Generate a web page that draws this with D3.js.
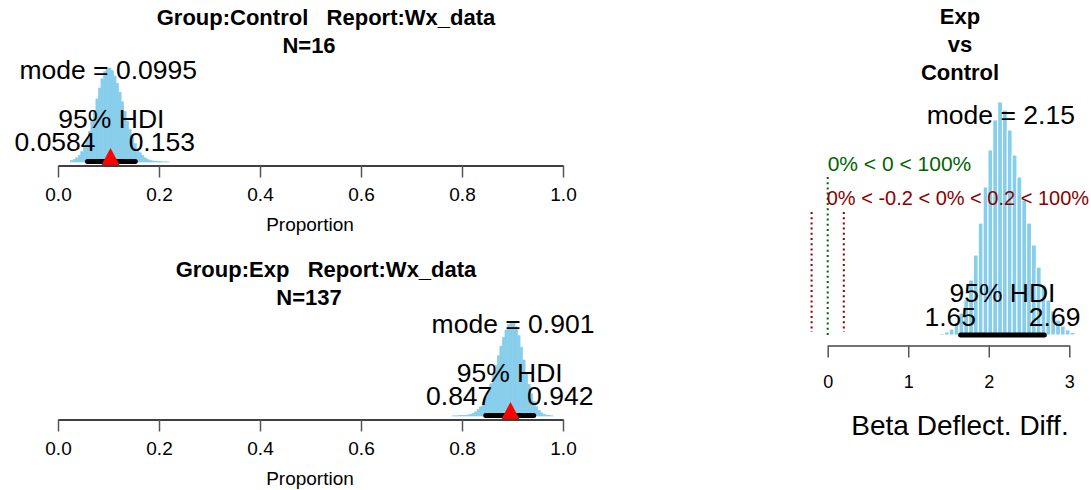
<!DOCTYPE html>
<html><head><meta charset="utf-8">
<script src="https://cdn.jsdelivr.net/npm/d3@7"></script>
<style>
body{margin:0;background:#fff}
svg{display:block}
text{font-family:"Liberation Sans",Arial,sans-serif;fill:#000}
</style>
</head><body>
<svg id="c" width="1091" height="490"></svg>
<script>
// ---------- data ----------
const propTicks = [0, 0.2, 0.4, 0.6, 0.8, 1.0];
const propTickLabels = ["0.0", "0.2", "0.4", "0.6", "0.8", "1.0"];
const diffTicks = [0, 1, 2, 3];
const diffTickLabels = ["0", "1", "2", "3"];

const controlTitle = ["Group:Control   Report:Wx_data", "N=16"];
const controlBinStart = 0.025;
const controlBinWidth = 0.005;
const controlDensity = [0.23,0.39,0.66,1.07,1.65,2.46,3.54,4.88,6.45,8.19,10.01,11.75,13.23,14.34,14.93,
  14.94,14.51,13.67,12.51,11.10,9.57,8.01,6.50,5.13,3.93,2.91,2.10,1.47,1.01,0.66,0.42,0.26,0.17,0.09,0.06,0.05,0.03,0.03,0.02];
const controlMode = 0.0995;
const controlHDI = [0.0584, 0.153];
const controlMarker = 0.104;

const expTitle = ["Group:Exp   Report:Wx_data", "N=137"];
const expBinStart = 0.780;
const expBinWidth = 0.005;
const expDensity = [0.02,0.03,0.03,0.05,0.06,0.09,0.17,0.26,0.42,0.66,1.01,1.47,2.10,2.91,3.93,5.13,6.50,8.01,9.57,11.10,
  12.51,13.67,14.51,14.94,14.91,14.16,12.77,10.94,8.90,6.87,5.04,3.51,2.33,1.46,0.87,0.50,0.27,0.14,0.06,0.03];
const expMode = 0.901;
const expHDI = [0.847, 0.942];
const expMarker = 0.896;

const diffTitle = ["Exp", "vs", "Control"];
const diffBinStart = 1.39;
const diffBinWidth = 0.06;
const diffDensity = [0.010,0.020,0.039,0.079,0.144,0.230,0.361,0.525,0.735,0.972,1.215,1.412,1.530,1.477,
  1.346,1.182,1.037,0.886,0.735,0.591,0.446,0.328,0.230,0.158,0.098,0.059,0.033,0.016];
const diffMode = 2.15;
const diffHDI = [1.65, 2.69];
const compVal = 0;
const ropeVals = [-0.2, 0.2];
const compText = "0% < 0 < 100%";
const ropeText = "0% < -0.2 < 0% < 0.2 < 100%";
const propLabel = "Proportion";
const diffLabel = "Beta Deflect. Diff.";

// ---------- drawing ----------
const svg = d3.select("#c");
svg.append("rect").attr("width", 1091).attr("height", 490).attr("fill", "#fff");
const SKY = "#87CEEB";

function fmt(v){ return String(v); }

function adjText(g, txt, x, y, adj, size, color){
  const t = g.append("text").attr("x", x).attr("y", y).attr("font-size", size)
    .style("fill", color || "#000").text(txt);
  const w = t.node().getComputedTextLength();
  t.attr("x", x - adj * w);
  return t;
}

function propPanel(cfg){
  const g = svg.append("g");
  const x = d3.scaleLinear().domain([0, 1]).range([58, 563]);
  const axisY = cfg.axisY;
  const base = axisY - 3.5;
  const y = d3.scaleLinear().domain([0, d3.max(cfg.density)]).range([base, base - 94]);
  // titles
  const titleX = [326, 309];
  cfg.title.forEach((t, i) => {
    g.append("text").attr("x", titleX[i]).attr("y", cfg.titleY + i * 28).attr("text-anchor", "middle")
      .attr("font-size", 22).attr("font-weight", "bold").style("white-space", "pre").text(t);
  });
  // histogram
  g.selectAll("rect.bar").data(cfg.density).join("rect")
    .attr("x", (d, i) => x(cfg.binStart + i * cfg.binWidth))
    .attr("width", x(cfg.binWidth) - x(0))
    .attr("y", d => y(d)).attr("height", d => base - y(d))
    .attr("fill", SKY).attr("stroke", SKY).attr("stroke-width", 0.6);
  // axis
  const ax = g.append("g").attr("transform", `translate(0,${axisY})`)
    .call(d3.axisBottom(x).tickValues(propTicks).tickFormat((d, i) => propTickLabels[i])
      .tickSize(12).tickSizeOuter(0).tickPadding(10));
  ax.select(".domain").attr("stroke", "#000").attr("stroke-width", 1.3);
  ax.selectAll(".tick line").attr("stroke", "#555").attr("stroke-width", 1.5);
  ax.selectAll(".tick text").attr("font-size", 19).attr("font-family", "Liberation Sans, Arial, sans-serif").style("fill", "#000");
  g.append("text").attr("x", 310).attr("y", axisY + 65).attr("text-anchor", "middle")
    .attr("font-size", 19).text(propLabel);
  // mode text
  g.append("text").attr("x", x(cfg.mode)).attr("y", axisY - 87).attr("text-anchor", "middle")
    .attr("font-size", 26.5).text("mode = " + fmt(cfg.mode));
  g.append("text").attr("x", x((cfg.hdi[0] + cfg.hdi[1]) / 2)).attr("y", axisY - 38).attr("text-anchor", "middle")
    .attr("font-size", 26.5).text("95% HDI");
  adjText(g, fmt(cfg.hdi[0]), x(cfg.hdi[0]), axisY - 15, 0.9, 26.5);
  adjText(g, fmt(cfg.hdi[1]), x(cfg.hdi[1]), axisY - 15, 0.1, 26.5);
  // HDI bar
  g.append("line").attr("x1", x(cfg.hdi[0])).attr("x2", x(cfg.hdi[1]))
    .attr("y1", axisY - 4).attr("y2", axisY - 4)
    .attr("stroke", "#000").attr("stroke-width", 5).attr("stroke-linecap", "round");
  // marker
  const mx = x(cfg.marker), by = axisY - 0.5;
  g.append("path").attr("d", `M${mx - 9},${by}L${mx + 9},${by}L${mx},${by - 17}Z`).attr("fill", "#f00");
}

propPanel({title: controlTitle, titleY: 25, axisY: 165.5, density: controlDensity, binStart: controlBinStart,
  binWidth: controlBinWidth, mode: controlMode, hdi: controlHDI, marker: controlMarker});
propPanel({title: expTitle, titleY: 277, axisY: 419.5, density: expDensity, binStart: expBinStart,
  binWidth: expBinWidth, mode: expMode, hdi: expHDI, marker: expMarker});

// right panel
(function(){
  const g = svg.append("g");
  const x = d3.scaleLinear().domain([0, 3]).range([827.7, 1069.3]);
  const axisY = 345.5;
  const base = 335;
  const y = d3.scaleLinear().domain([0, d3.max(diffDensity)]).range([base, 102]);
  diffTitle.forEach((t, i) => {
    g.append("text").attr("x", 960).attr("y", 24 + i * 28).attr("text-anchor", "middle")
      .attr("font-size", 22).attr("font-weight", "bold").text(t);
  });
  g.selectAll("rect.bar").data(diffDensity).join("rect")
    .attr("x", (d, i) => x(diffBinStart + i * diffBinWidth))
    .attr("width", x(diffBinWidth) - x(0))
    .attr("y", d => y(d)).attr("height", d => base - y(d))
    .attr("fill", SKY).attr("stroke", "#fff").attr("stroke-width", 1);
  const ax = g.append("g").attr("transform", `translate(0,${axisY})`)
    .call(d3.axisBottom(x).tickValues(diffTicks).tickFormat((d, i) => diffTickLabels[i])
      .tickSize(12).tickSizeOuter(0).tickPadding(18));
  ax.select(".domain").attr("stroke", "#444").attr("stroke-width", 1.3);
  ax.selectAll(".tick line").attr("stroke", "#555").attr("stroke-width", 1.5);
  ax.selectAll(".tick text").attr("font-size", 18).attr("font-family", "Liberation Sans, Arial, sans-serif").style("fill", "#000");
  g.append("text").attr("x", 960).attr("y", 435).attr("text-anchor", "middle")
    .attr("font-size", 28).text(diffLabel);
  // comparison lines
  g.append("line").attr("x1", x(compVal)).attr("x2", x(compVal)).attr("y1", 177).attr("y2", 335)
    .attr("stroke", "#006400").attr("stroke-width", 2).attr("stroke-dasharray", "2,3.2");
  ropeVals.forEach(v => {
    g.append("line").attr("x1", x(v)).attr("x2", x(v)).attr("y1", 212).attr("y2", 332)
      .attr("stroke", "#8B0000").attr("stroke-width", 2).attr("stroke-dasharray", "2,3.2");
  });
  g.append("text").attr("x", x(compVal)).attr("y", 171).attr("font-size", 21)
    .style("fill", "#006400").text(compText);
  g.append("text").attr("x", x(compVal) - 1).attr("y", 205).attr("font-size", 20)
    .style("fill", "#8B0000").text(ropeText);
  g.append("text").attr("x", x(diffMode)).attr("y", 124).attr("text-anchor", "middle")
    .attr("font-size", 26.5).text("mode = " + fmt(diffMode));
  g.append("text").attr("x", x((diffHDI[0] + diffHDI[1]) / 2)).attr("y", 302).attr("text-anchor", "middle")
    .attr("font-size", 26.5).text("95% HDI");
  adjText(g, fmt(diffHDI[0]), x(diffHDI[0]), 326, 0.7, 26.5);
  adjText(g, fmt(diffHDI[1]), x(diffHDI[1]), 326, 0.3, 26.5);
  g.append("line").attr("x1", x(diffHDI[0])).attr("x2", x(diffHDI[1])).attr("y1", 335).attr("y2", 335)
    .attr("stroke", "#000").attr("stroke-width", 5).attr("stroke-linecap", "round");
})();
</script>
</body></html>
